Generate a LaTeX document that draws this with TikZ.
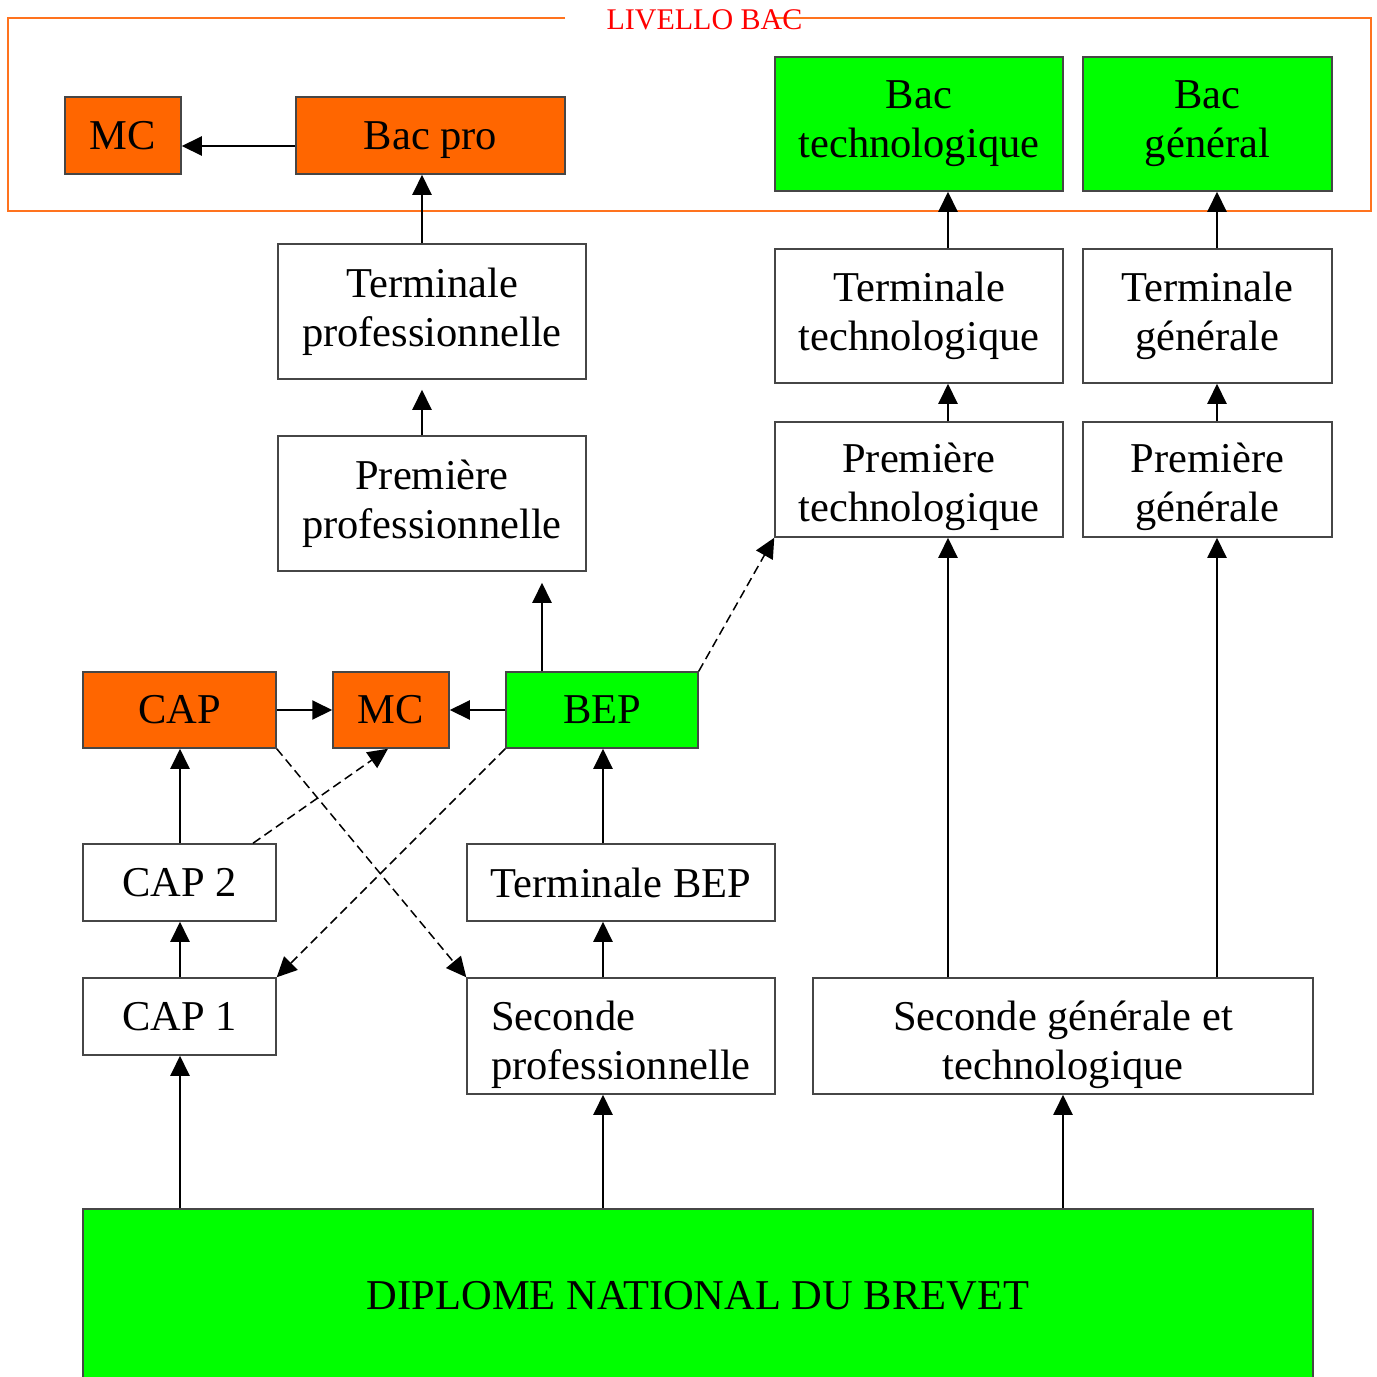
\documentclass[tikz,border=0pt]{standalone}
\usepackage{fontspec}
\setmainfont{Liberation Serif}
\usetikzlibrary{arrows.meta}
\definecolor{orng}{RGB}{255,102,0}
\definecolor{grn}{RGB}{0,255,0}
\definecolor{frm}{RGB}{255,115,30}
\definecolor{bord}{RGB}{70,70,70}
\begin{document}
\begin{tikzpicture}[x=1pt,y=-1pt,
  box/.style={draw=bord, line width=1.5pt, inner sep=0pt, align=center,
    font=\fontsize{42.5}{49}\selectfont},
  arr/.style={line width=2pt, -{Triangle[length=20pt,width=19pt]}},
  dsh/.style={arr, line width=1.5pt, dash pattern=on 9pt off 5pt}]
\fill[white] (0,0) rectangle (1377,1377);
\useasboundingbox (0,0) rectangle (1377,1377);
% frame
\draw[frm, line width=1.8pt] (565,18) -- (8,18) -- (8,211) -- (1371,211) -- (1371,18) -- (775,18);
\node[text=red, inner sep=0pt, font=\fontsize{30}{36}\selectfont] (lbl) at (704.5,20) {LIVELLO BAC};
% top row
\node[box, fill=orng, minimum width=116pt, minimum height=77pt] (mca) at (123,135.5) {MC};
\node[box, fill=orng, minimum width=269pt, minimum height=77pt, text depth=0pt] (bacpro) at (430.5,135.5) {Bac pro};
\node[box, fill=grn, minimum width=288pt, minimum height=134pt] (bactech) at (919,124) {Bac\\technologique};
\node[box, fill=grn, minimum width=249pt, minimum height=134pt] (bacgen) at (1207.5,124) {Bac\\général};
% upper classes
\node[box, minimum width=308pt, minimum height=135pt] (termpro) at (432,311.5) {Terminale\\professionnelle};
\node[box, minimum width=308pt, minimum height=135pt] (prempro) at (432,503.5) {Première\\professionnelle};
\node[box, minimum width=288pt, minimum height=134pt] (termtech) at (919,316) {Terminale\\technologique};
\node[box, minimum width=249pt, minimum height=134pt] (termgen) at (1207.5,316) {Terminale\\générale};
\node[box, minimum width=288pt, minimum height=115pt] (premtech) at (919,479.5) {\rule{0pt}{45pt}Première\\technologique};
\node[box, minimum width=249pt, minimum height=115pt] (premgen) at (1207.5,479.5) {\rule{0pt}{45pt}Première\\générale};
% middle row
\node[box, fill=orng, minimum width=193pt, minimum height=76pt] (cap) at (179.5,710) {CAP};
\node[box, fill=orng, minimum width=116pt, minimum height=76pt] (mcb) at (391,710) {MC};
\node[box, fill=grn, minimum width=192pt, minimum height=76pt] (bep) at (602,710) {BEP};
% lower classes
\node[box, minimum width=193pt, minimum height=77pt] (cap2) at (179.5,882.5) {CAP 2};
\node[box, minimum width=308pt, minimum height=77pt] (termbep) at (621,882.5) {Terminale BEP};
\node[box, minimum width=193pt, minimum height=77pt] (cap1) at (179.5,1016.5) {CAP 1};
\node[box, align=left, minimum width=308pt, minimum height=116pt] (secpro) at (621,1036) {\rule{0pt}{47pt}Seconde\\professionnelle};
\node[box, minimum width=500pt, minimum height=116pt] (secgt) at (1063,1036) {\rule{0pt}{47pt}Seconde générale et\\technologique};
\node[box, fill=grn, minimum width=1230pt, minimum height=174pt] (dnb) at (698,1296) {DIPLOME NATIONAL DU BREVET};
% arrows
\draw[arr] (bacpro.west |- 0,146) -- (mca.east |- 0,146);
\draw[arr] (422,0 |- termpro.north) -- (422,0 |- bacpro.south);
\draw[arr, shorten >=10pt] (422,0 |- prempro.north) -- (422,0 |- termpro.south);
\draw[arr] (948,0 |- termtech.north) -- (948,0 |- bactech.south);
\draw[arr] (1217,0 |- termgen.north) -- (1217,0 |- bacgen.south);
\draw[arr] (948,0 |- premtech.north) -- (948,0 |- termtech.south);
\draw[arr] (1217,0 |- premgen.north) -- (1217,0 |- termgen.south);
\draw[arr] (948,0 |- secgt.north) -- (948,0 |- premtech.south);
\draw[arr] (1217,0 |- secgt.north) -- (1217,0 |- premgen.south);
\draw[arr] (cap.east) -- (mcb.west);
\draw[arr] (bep.west) -- (mcb.east);
\draw[arr, shorten >=11pt] (542,0 |- bep.north) -- (542,0 |- prempro.south);
\draw[dsh] (bep.north east) -- (premtech.south west);
\draw[dsh] (cap.south east) -- (secpro.north west);
\draw[dsh] (253,0 |- cap2.north) -- (388,0 |- mcb.south);
\draw[dsh] (bep.south west) -- (cap1.north east);
\draw[arr] (180,0 |- cap2.north) -- (180,0 |- cap.south);
\draw[arr] (180,0 |- cap1.north) -- (180,0 |- cap2.south);
\draw[arr] (603,0 |- termbep.north) -- (603,0 |- bep.south);
\draw[arr] (603,0 |- secpro.north) -- (603,0 |- termbep.south);
\draw[arr] (180,0 |- dnb.north) -- (180,0 |- cap1.south);
\draw[arr] (603,0 |- dnb.north) -- (603,0 |- secpro.south);
\draw[arr] (1063,0 |- dnb.north) -- (1063,0 |- secgt.south);
\end{tikzpicture}
\end{document}
